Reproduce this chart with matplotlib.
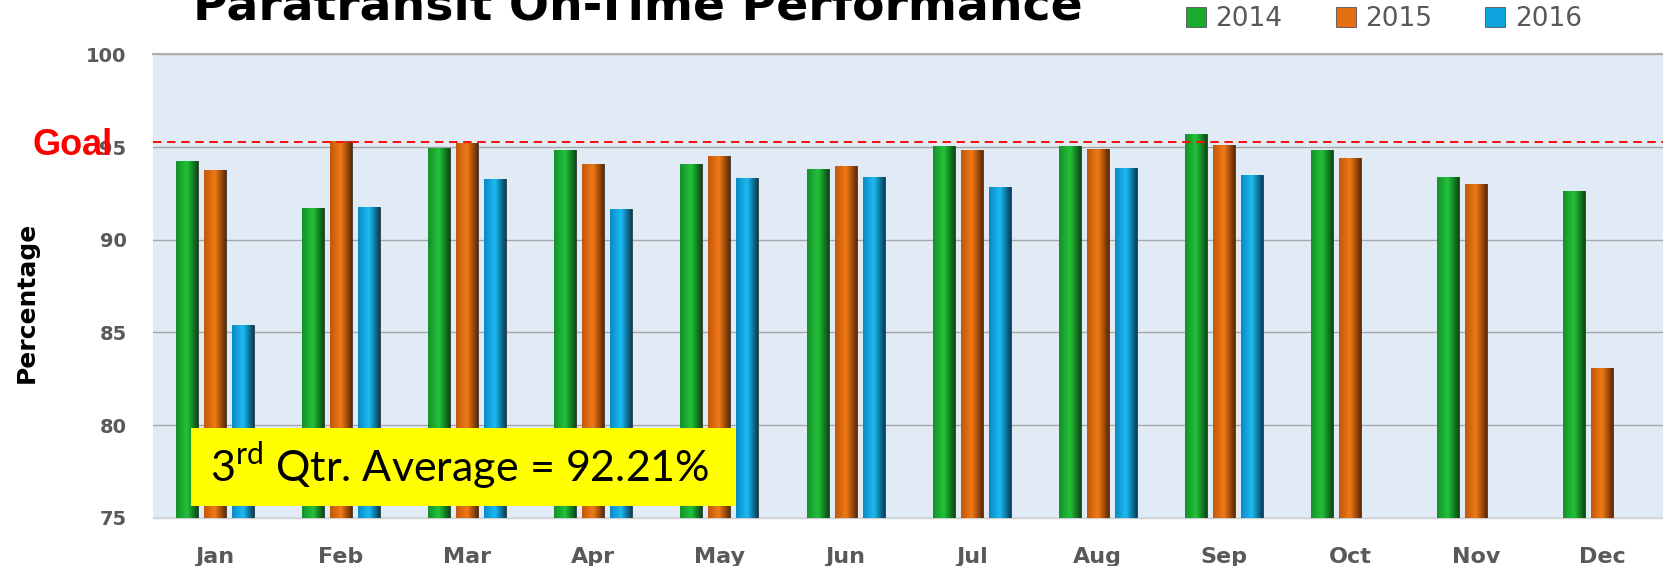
import numpy as np
import matplotlib
matplotlib.use("Agg")
import matplotlib.pyplot as plt
from matplotlib.colors import LinearSegmentedColormap
from matplotlib.lines import Line2D
from matplotlib.patches import Rectangle

# data
months = ['Jan', 'Feb', 'Mar', 'Apr', 'May', 'Jun', 'Jul', 'Aug', 'Sep', 'Oct', 'Nov', 'Dec']
y2014 = [94.23, 91.71, 94.95, 94.84, 94.08, 93.83, 95.05, 95.04, 95.70, 94.86, 93.37, 92.61]
y2015 = [93.74, 95.31, 95.22, 94.08, 94.53, 93.96, 94.82, 94.91, 95.09, 94.43, 93.00, 83.09]
y2016 = [85.41, 91.75, 93.30, 91.66, 93.35, 93.37, 92.86, 93.85, 93.47, np.nan, np.nan, np.nan]
years = ['2014', '2015', '2016']
goal = 95.25
yticks = [75, 80, 85, 90, 95, 100]
note = r'3$^{\mathrm{rd}}$ Qtr. Average = 92.21%'

# left edge, middle, right edge of each cylinder-like bar
shades = {
    '2014': ['#14912a', '#22c23a', '#0a4a12'],
    '2015': ['#c0580a', '#f27a16', '#5e2a04'],
    '2016': ['#0a88c4', '#1cbcf2', '#053f5e'],
}
base = {'2014': '#1aab2e', '2015': '#e46e10', '2016': '#10a4de'}

plt.rcParams['mathtext.fontset'] = 'custom'
plt.rcParams['mathtext.rm'] = 'Lato'

fig = plt.figure(figsize=(16.63, 5.66), dpi=100)
ax = fig.add_axes([0.092, 0.0853, 0.908, 0.8187])
ax.set_facecolor('#e1ebf6')
ax.set_xlim(-0.49, 11.48)
ax.set_ylim(yticks[0], yticks[-1])
lo = ax.get_ylim()[0]

x = np.arange(len(months))
w = 0.174
step = 0.222
grad = np.linspace(0, 1, 64).reshape(1, -1)
for i, (yr, vals) in enumerate(zip(years, [y2014, y2015, y2016])):
    bars = ax.bar(x + (i - 1) * step, vals, width=w, color=base[yr],
                  edgecolor='#333333', linewidth=0.6, zorder=3)
    cmap = LinearSegmentedColormap.from_list(yr, shades[yr])
    for r in bars:
        h = r.get_height()
        if np.isnan(h):
            continue
        bx, bw = r.get_x(), r.get_width()
        im = ax.imshow(grad, cmap=cmap, extent=[bx, bx + bw, lo, h],
                       aspect='auto', zorder=3.5, interpolation='bicubic')
        im.set_clip_path(r)

ax.set_xlim(-0.49, 11.48)
ax.set_ylim(yticks[0], yticks[-1])
ax.set_yticks(yticks)
ax.set_yticklabels([str(t) for t in yticks])
ax.set_xticks(x)
ax.set_xticklabels(months)
ax.tick_params(axis='y', length=0, pad=19, labelsize=14, labelcolor='#595959')
ax.tick_params(axis='x', length=0, pad=21, labelsize=16, labelcolor='#595959')
for lab in ax.get_xticklabels() + ax.get_yticklabels():
    lab.set_fontweight('bold')

ax.grid(axis='y', color='#a6a6a6', linewidth=1.0, zorder=1)
ax.set_axisbelow(True)
for s in ['left', 'right']:
    ax.spines[s].set_visible(False)
ax.spines['top'].set_color('#b0b0b0')
ax.spines['top'].set_linewidth(1.5)
ax.spines['bottom'].set_color('#d0d0d0')
ax.spines['bottom'].set_linewidth(1.0)

# goal line
ax.axhline(goal, color='#ff1010', linewidth=1.45, dashes=(4.2, 2.8), zorder=5)
fig.text(0.0198, 0.726, 'Goal', color='red', fontsize=26, fontweight='bold',
         family='Liberation Sans', ha='left', va='baseline', zorder=6)

# average box
ax.add_patch(Rectangle((0.0252, 0.0252), 0.3602, 0.1688, transform=ax.transAxes,
                       facecolor='#ffff00', edgecolor='none', zorder=6))
ax.text(0.0377, 0.0777, note, transform=ax.transAxes, fontsize=31,
        family='Lato', color='black', ha='left', va='baseline', zorder=7)

# titles
fig.text(0.3837, 0.9655, 'Paratransit On-Time Performance', fontsize=34,
         fontweight='bold', color='black', ha='center', va='baseline')
fig.text(0.0162, 0.4664, 'Percentage', fontsize=18, fontweight='bold',
         rotation=90, ha='center', va='center')

# legend
handles = [Line2D([], [], marker='s', linestyle='none', markersize=15,
                  markerfacecolor=base[yr], markeredgecolor='#555555',
                  markeredgewidth=0.6) for yr in years]
fig.legend(handles, years, loc='center', bbox_to_anchor=(0.832, 0.966), ncol=3,
           frameon=False, fontsize=19, labelcolor='#595959', handlelength=0.8,
           handletextpad=0.34, columnspacing=2.0, borderpad=0, borderaxespad=0)

fig.savefig('out.png', dpi=100)
